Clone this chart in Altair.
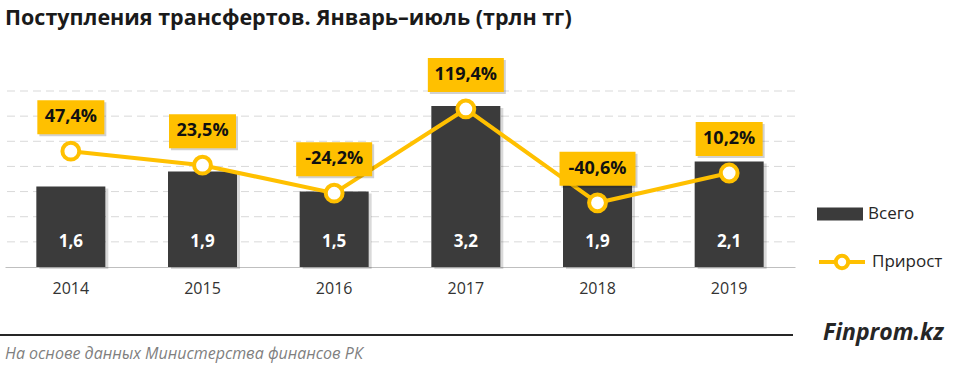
import altair as alt
import pandas as pd

years = ["2014", "2015", "2016", "2017", "2018", "2019"]
totals = [1.6, 1.9, 1.5, 3.2, 1.9, 2.1]
growth = [47.4, 23.5, -24.2, 119.4, -40.6, 10.2]
total_labels = ["1,6", "1,9", "1,5", "3,2", "1,9", "2,1"]
growth_labels = ["47,4%", "23,5%", "-24,2%", "119,4%", "-40,6%", "10,2%"]
grid_values = [0.5, 1.0, 1.5, 2.0, 2.5, 3.0, 3.5]

title_text = "Поступления трансфертов. Январь–июль (трлн тг)"
source_text = "На основе данных Министерства финансов РК"
brand_text = "Finprom.kz"
legend_total = "Всего"
legend_growth = "Прирост"

FONT = "Open Sans"
YELLOW = "#ffc000"
DARK = "#3b3b3b"


def box_path(label):
    hw = (9 * len(label) + 22) / 2
    return f"M{-hw},-17L{hw},-17L{hw},17L{-hw},17Z"


df = pd.DataFrame({
    "year": years,
    "total": totals,
    "growth": growth,
    "tl": total_labels,
    "gl": growth_labels,
})
df["box"] = [box_path(l) for l in growth_labels]
df["s1"] = legend_total
df["s2"] = legend_growth

grid_df = pd.DataFrame({"v": grid_values})

x_enc = alt.X("year:N", title=None, axis=alt.Axis(
    labelAngle=0, labelFontSize=16, labelFont=FONT, labelColor="#333333",
    ticks=False, domainColor="#bfbfbf", domainWidth=1, labelPadding=13))

bar_scale = alt.Scale(domain=[0, 3.5], nice=False)
line_scale = alt.Scale(domain=[-150, 150], nice=False)

base = alt.Chart(df)

grid = alt.Chart(grid_df).mark_rule(color="#d9d9d9", strokeWidth=1, strokeDash=[8, 5]).encode(
    y=alt.Y("v:Q", scale=bar_scale, axis=None),
)

bar_shadow = base.mark_bar(size=69, color="#000000", opacity=0.15, xOffset=3, yOffset=2).encode(
    x=x_enc,
    y=alt.Y("total:Q", scale=bar_scale, axis=None),
)

bars = base.mark_bar(size=69).encode(
    x=x_enc,
    y=alt.Y("total:Q", scale=bar_scale, axis=None),
    color=alt.Color("s1:N", scale=alt.Scale(domain=[legend_total], range=[DARK]),
                    legend=alt.Legend(title=None, orient="none", legendX=812, legendY=100,
                                      symbolType="M-1,-0.28L1,-0.28L1,0.28L-1,0.28Z",
                                      symbolSize=2116, symbolStrokeWidth=0,
                                      labelFontSize=17, labelFont=FONT, labelColor="#262626",
                                      labelOffset=5, padding=0)),
)

bar_text = base.mark_text(color="white", fontWeight="bold", fontSize=17, font=FONT,
                          baseline="middle").encode(
    x="year:N",
    y=alt.YDatum(0.5),
    text="tl:N",
)

bar_layer = alt.layer(grid, bar_shadow, bars, bar_text)

line = base.mark_line(strokeWidth=4).encode(
    x="year:N",
    y=alt.Y("growth:Q", scale=line_scale, axis=None),
    stroke=alt.Stroke("s2:N", scale=alt.Scale(domain=[legend_growth], range=[YELLOW]),
                      legend=alt.Legend(title=None, orient="none", legendX=812, legendY=146,
                                        symbolType="M-1,0L-0.33,0M0.33,0L1,0M-0.27,0A0.27,0.27,0,1,1,0.27,0A0.27,0.27,0,1,1,-0.27,0Z",
                                        symbolSize=2116, symbolStrokeWidth=4,
                                        symbolFillColor="white",
                                        labelFontSize=17, labelFont=FONT, labelColor="#262626",
                                        labelOffset=5, padding=0)),
)

points = base.mark_point(filled=True, fill="white", stroke=YELLOW, strokeWidth=4,
                         size=283, opacity=1).encode(
    x="year:N",
    y=alt.Y("growth:Q", scale=line_scale, axis=None),
)

box_shadow = base.mark_point(filled=True, color="#000000", opacity=0.18, size=4,
                             yOffset=-32, xOffset=2).encode(
    x="year:N",
    y=alt.Y("growth:Q", scale=line_scale, axis=None),
    shape=alt.Shape("box:N", scale=None, legend=None),
)

boxes = base.mark_point(filled=True, color=YELLOW, opacity=1, size=4, yOffset=-34).encode(
    x="year:N",
    y=alt.Y("growth:Q", scale=line_scale, axis=None),
    shape=alt.Shape("box:N", scale=None, legend=None),
)

box_text = base.mark_text(fontWeight="bold", fontSize=18, font=FONT, color="#111111",
                          baseline="middle", dy=-34).encode(
    x="year:N",
    y=alt.Y("growth:Q", scale=line_scale, axis=None),
    text="gl:N",
)

line_layer = alt.layer(line, points, box_shadow, boxes, box_text)

one = alt.Data(values=[{}])

title = alt.Chart(one).mark_text(text=title_text, align="left", baseline="alphabetic",
                                 fontSize=21.5, fontWeight="bold", font=FONT,
                                 color="#1a1a1a").encode(x=alt.value(0), y=alt.value(-66))

rule = alt.Chart(one).mark_rule(color="#262626", strokeWidth=2).encode(
    x=alt.value(-5), x2=alt.value(788), y=alt.value(244))

brand = alt.Chart(one).mark_text(text=brand_text, align="left", baseline="alphabetic",
                                 fontSize=23, fontWeight="bold", fontStyle="italic",
                                 font=FONT, color="#262626").encode(
    x=alt.value(818), y=alt.value(249))

source = alt.Chart(one).mark_text(text=source_text, align="left", baseline="alphabetic",
                                  fontSize=16, fontStyle="italic", font=FONT,
                                  color="#7f7f7f").encode(x=alt.value(0), y=alt.value(268))

chart = alt.layer(bar_layer, line_layer, title, rule, brand, source).resolve_scale(
    y="independent", color="independent", stroke="independent"
).properties(
    width=790, height=176,
    autosize=alt.AutoSizeParams(type="none"),
    padding={"left": 5, "top": 91, "right": 165, "bottom": 109},
    background="white",
).configure_view(stroke=None)

chart.save("out.html", embed_options={"renderer": "svg", "actions": False})
